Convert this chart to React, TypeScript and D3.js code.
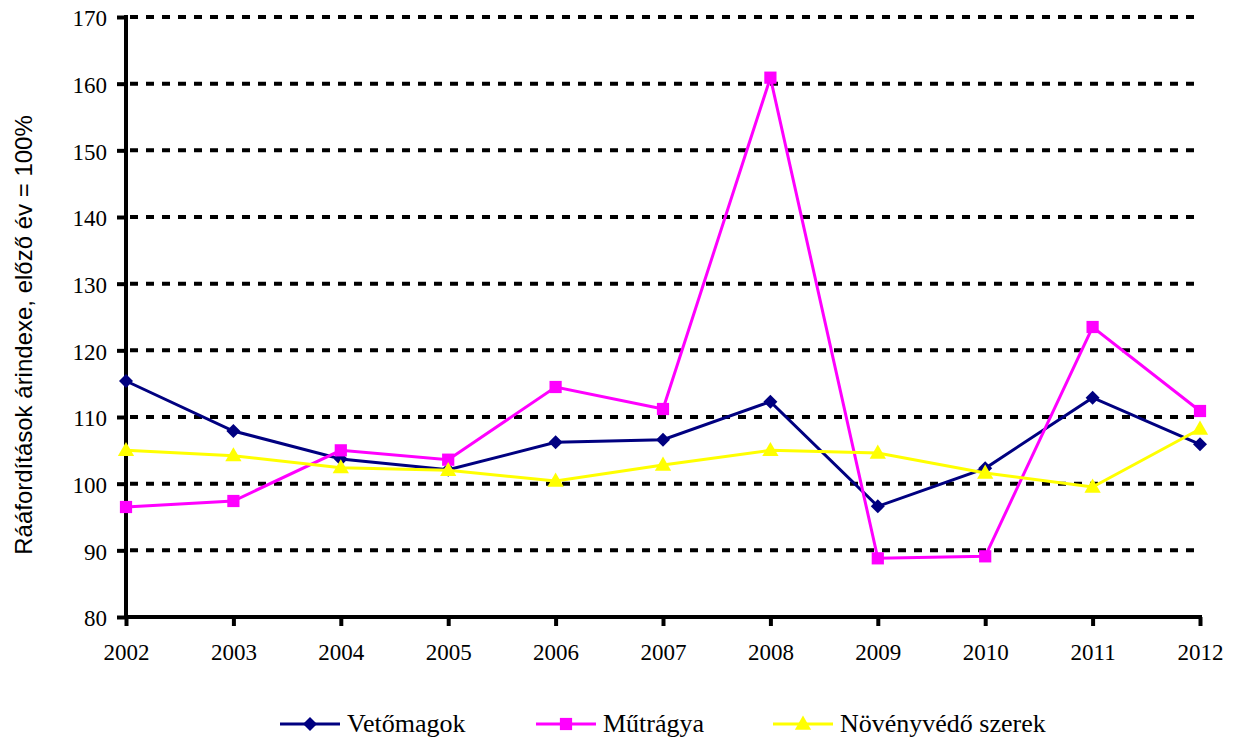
import React, { useRef, useEffect } from 'react';
import * as d3 from 'd3';

// adatok
const years = ['2002', '2003', '2004', '2005', '2006', '2007', '2008', '2009', '2010', '2011', '2012'];
const vetomagok = [115.4, 107.9, 103.7, 102.1, 106.2, 106.6, 112.3, 96.6, 102.3, 112.9, 105.9];
const mutragya = [96.5, 97.4, 105.0, 103.6, 114.5, 111.2, 160.9, 88.8, 89.1, 123.5, 110.9];
const novenyvedo = [105.0, 104.2, 102.4, 102.0, 100.4, 102.8, 105.0, 104.6, 101.6, 99.5, 108.2];
const yTicks = [80, 90, 100, 110, 120, 130, 140, 150, 160, 170];

const series = [
  { name: 'Vetőmagok', values: vetomagok, color: '#000080', marker: 'diamond' },
  { name: 'Műtrágya', values: mutragya, color: '#FF00FF', marker: 'square' },
  { name: 'Növényvédő szerek', values: novenyvedo, color: '#FFFF00', marker: 'triangle' },
];

const W = 1236;
const H = 740;
const SERIF = 'Times New Roman, Liberation Serif, DejaVu Serif, serif';
const SANS = 'Arial, Liberation Sans, sans-serif';

const App = () => {
  const ref = useRef<SVGSVGElement>(null);

  useEffect(() => {
    const svg = d3.select(ref.current);
    svg.selectAll('*').remove();

    const left = 126, right = 1200, top = 17, bottom = 617;

    const x = d3.scalePoint().domain(years).range([left, right]);
    const y = d3.scaleLinear().domain([80, 170]).range([bottom, top]);

    // rács
    svg.append('g')
      .selectAll('line')
      .data(yTicks.filter(d => d > 80))
      .enter()
      .append('line')
      .attr('x1', left + 4)
      .attr('x2', right)
      .attr('y1', d => y(d))
      .attr('y2', d => y(d))
      .attr('stroke', '#000')
      .attr('stroke-width', 4)
      .attr('stroke-dasharray', '8,8');

    // y tengely
    const yAxis = svg.append('g')
      .attr('transform', `translate(${left},0)`)
      .call(d3.axisLeft(y).tickValues(yTicks).tickSize(9).tickPadding(10));
    yAxis.attr('font-family', SERIF).attr('font-size', 23);
    yAxis.select('.domain').attr('stroke', '#000').attr('stroke-width', 4)
      .attr('d', `M0,${top - 2}V${bottom + 2}`);
    yAxis.selectAll('.tick line').attr('stroke', '#000').attr('stroke-width', 4);
    yAxis.selectAll('text')
      .attr('dy', '0.38em')
      .attr('fill', '#000');

    // x tengely
    const xAxis = svg.append('g')
      .attr('transform', `translate(0,${bottom})`)
      .call(d3.axisBottom(x).tickSize(9));
    xAxis.attr('font-family', SERIF).attr('font-size', 23);
    xAxis.select('.domain').attr('stroke', '#000').attr('stroke-width', 4)
      .attr('d', `M${left - 2},0H${right + 2}`);
    xAxis.selectAll('.tick line').attr('stroke', '#000').attr('stroke-width', 4);
    xAxis.selectAll('text')
      .attr('y', 43)
      .attr('dy', 0)
      .attr('fill', '#000');

    // y tengely címe
    svg.append('text')
      .attr('transform', `translate(32,335) rotate(-90)`)
      .attr('text-anchor', 'middle')
      .attr('font-family', SANS)
      .attr('font-size', 24)
      .attr('fill', '#000')
      .text('Rááfordítások árindexe, előző év = 100%');

    const symbolFor = (m: string) => {
      if (m === 'diamond') return d3.symbol().type(d3.symbolDiamond2).size(125)();
      if (m === 'square') return d3.symbol().type(d3.symbolSquare2).size(190)();
      return d3.symbol().type(d3.symbolTriangle2).size(190)();
    };

    const line = d3.line<number>()
      .x((d, i) => x(years[i]) as number)
      .y(d => y(d));

    series.forEach(s => {
      const g = svg.append('g');
      g.append('path')
        .datum(s.values)
        .attr('fill', 'none')
        .attr('stroke', s.color)
        .attr('stroke-width', 3)
        .attr('d', line);
      g.selectAll('path.m')
        .data(s.values)
        .enter()
        .append('path')
        .attr('class', 'm')
        .attr('transform', (d, i) => `translate(${x(years[i])},${y(d) + (s.marker === 'triangle' ? 1 : 0)})`)
        .attr('d', symbolFor(s.marker))
        .attr('fill', s.color);
    });

    // jelmagyarázat
    const legendX = [280, 536, 773];
    const ly = 724;
    series.forEach((s, i) => {
      const g = svg.append('g').attr('transform', `translate(${legendX[i]},${ly})`);
      g.append('line')
        .attr('x1', 0).attr('x2', 60)
        .attr('y1', 0).attr('y2', 0)
        .attr('stroke', s.color)
        .attr('stroke-width', 3);
      g.append('path')
        .attr('transform', `translate(30,${s.marker === 'triangle' ? 1 : 0})`)
        .attr('d', symbolFor(s.marker))
        .attr('fill', s.color);
      g.append('text')
        .attr('x', 67)
        .attr('y', 8)
        .attr('font-family', SERIF)
        .attr('font-size', 26)
        .attr('fill', '#000')
        .text(s.name);
    });
  }, []);

  return (
    <svg ref={ref} width={W} height={H}
      style={{ position: 'absolute', left: 0, top: 0, background: '#fff' }} />
  );
};

export default App;
